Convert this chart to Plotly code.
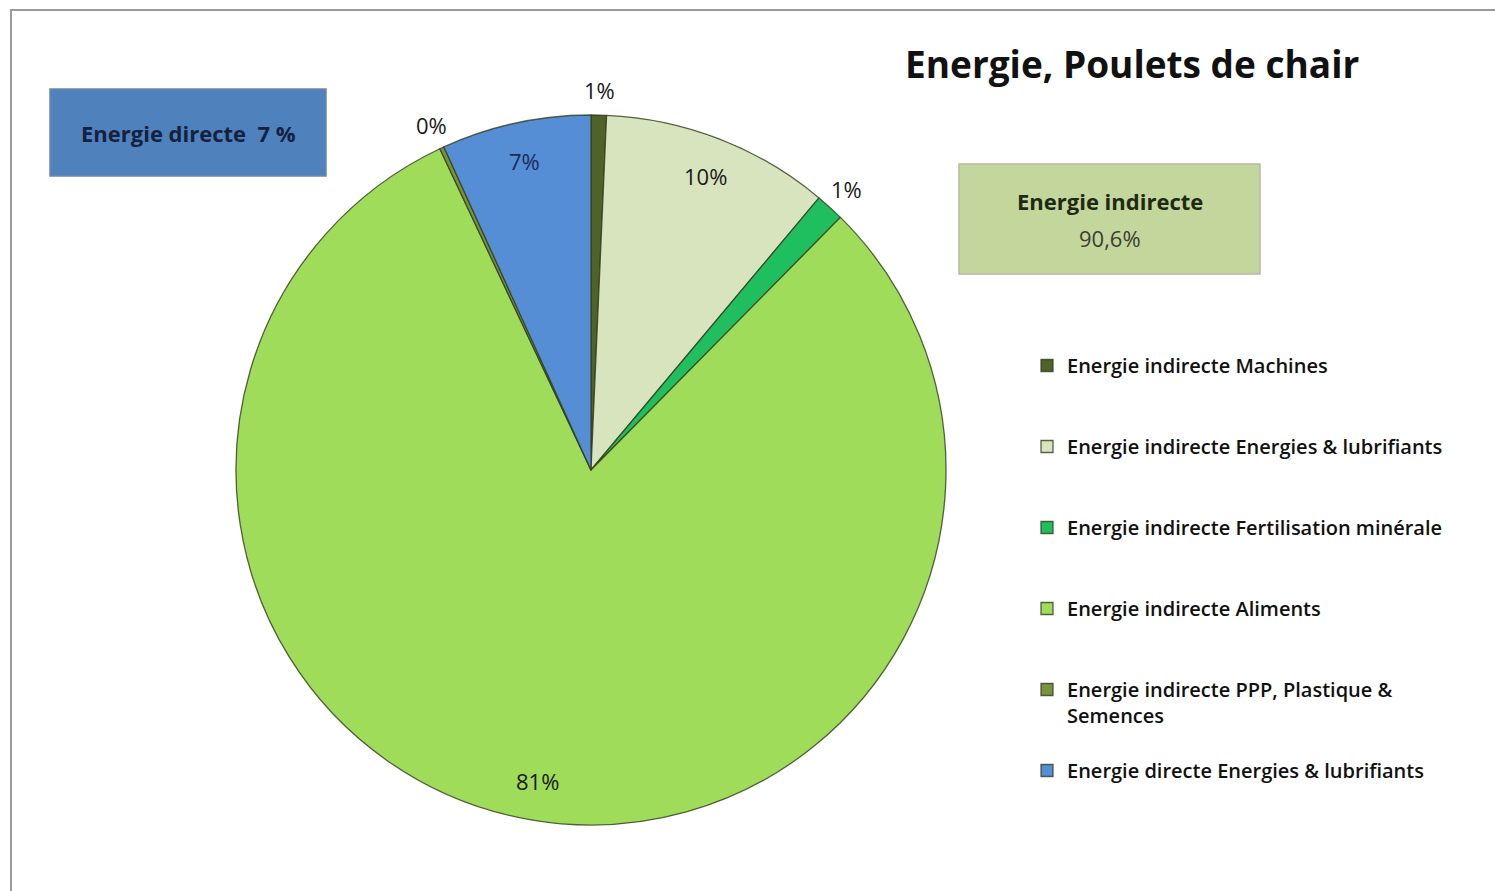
import math
import plotly.graph_objects as go

# Energy breakdown for broiler production (share of total, %)
categories = [
    "Energie indirecte Machines",
    "Energie indirecte Energies & lubrifiants",
    "Energie indirecte Fertilisation minérale",
    "Energie indirecte Aliments",
    "Energie indirecte PPP, Plastique & Semences",
    "Energie directe Energies & lubrifiants",
]
shares = [0.7, 10.4, 1.3, 80.6, 0.2, 6.8]
colors = ["#4f6228", "#d7e4bd", "#1fbf5f", "#9fdc5a", "#77933c", "#558ed5"]
label_outside = [True, False, True, False, True, False]
label_colors = ["#1a1a1a", "#1a1a1a", "#1a1a1a", "#1a1a1a", "#1a1a1a", "#1c2a55"]

FONT = "Open Sans"

# Legend entries: long name wrapped, every entry padded to three lines so the
# items sit evenly spaced down the right side
legend_labels = []
for name in categories:
    if name.startswith("Energie indirecte PPP"):
        legend_labels.append("Energie indirecte PPP, Plastique &<br>Semences<br> ")
    else:
        legend_labels.append(name + "<br> <br> ")

W, H = 1495, 891
cx, cy, r = 591, 470, 355

fig = go.Figure()
fig.add_trace(go.Pie(
    labels=legend_labels,
    values=shares,
    sort=False,
    direction="clockwise",
    rotation=0,
    marker=dict(colors=colors, line=dict(color="rgba(50,60,30,0.8)", width=1.3)),
    textinfo="none",
    domain=dict(x=[(cx - r) / W, (cx + r) / W], y=[(H - cy - r) / H, (H - cy + r) / H]),
    hoverinfo="skip",
))

# Percentage labels placed along each slice's mid-angle (clockwise from 12 o'clock)
total = sum(shares)
annotations = []
cum = 0.0
for val, outside, col in zip(shares, label_outside, label_colors):
    mid = (cum + val / 2) / total * 2 * math.pi
    cum += val
    rho = 1.07 if outside else 0.89
    px = cx + rho * r * math.sin(mid)
    py = cy - rho * r * math.cos(mid)
    annotations.append(dict(
        text=f"{round(val / total * 100):d}%", x=px / W, y=1 - py / H,
        xref="paper", yref="paper", showarrow=False,
        xanchor="center", yanchor="middle",
        font=dict(family=FONT, size=22, color=col)))

annotations += [
    dict(text="<b>Energie, Poulets de chair</b>", x=1132 / W, y=1 - 63 / H,
         xref="paper", yref="paper", showarrow=False, xanchor="center", yanchor="middle",
         font=dict(family=FONT, size=37, color="#111111")),
    dict(text="<b>Energie directe  7 %</b>", x=188 / W, y=1 - 133 / H,
         xref="paper", yref="paper", showarrow=False, xanchor="center", yanchor="middle",
         font=dict(family=FONT, size=22, color="#14213f")),
    dict(text="<b>Energie indirecte</b>", x=1110 / W, y=1 - 201 / H,
         xref="paper", yref="paper", showarrow=False, xanchor="center", yanchor="middle",
         font=dict(family=FONT, size=22, color="#1e2a14")),
    dict(text="90,6%", x=1110 / W, y=1 - 238 / H,
         xref="paper", yref="paper", showarrow=False, xanchor="center", yanchor="middle",
         font=dict(family=FONT, size=22, color="#3a3f33")),
]

fig.update_layout(
    width=W, height=H,
    margin=dict(l=0, r=0, t=0, b=0),
    paper_bgcolor="white",
    plot_bgcolor="white",
    showlegend=True,
    legend=dict(
        x=1027 / W, y=1 - 346 / H, xanchor="left", yanchor="top",
        font=dict(family=FONT, size=20, color="#111111", weight=600),
        valign="top",
        itemwidth=30,
        bgcolor="rgba(0,0,0,0)",
    ),
    annotations=annotations,
    shapes=[
        # chart frame (runs past the right and bottom edges)
        dict(type="rect", xref="paper", yref="paper",
             x0=11 / W, x1=1.02, y0=-0.02, y1=1 - 10 / H,
             line=dict(color="#9a9a9a", width=2), fillcolor="rgba(0,0,0,0)", layer="below"),
        dict(type="rect", xref="paper", yref="paper",
             x0=50 / W, x1=326 / W, y0=1 - 176 / H, y1=1 - 89 / H,
             line=dict(color="#6f86a6", width=1.5), fillcolor="#4f81bd", layer="below"),
        dict(type="rect", xref="paper", yref="paper",
             x0=959 / W, x1=1260 / W, y0=1 - 274 / H, y1=1 - 164 / H,
             line=dict(color="#b4bca6", width=1.5), fillcolor="#c3d69b", layer="below"),
    ],
)

fig.write_html("out.html")
